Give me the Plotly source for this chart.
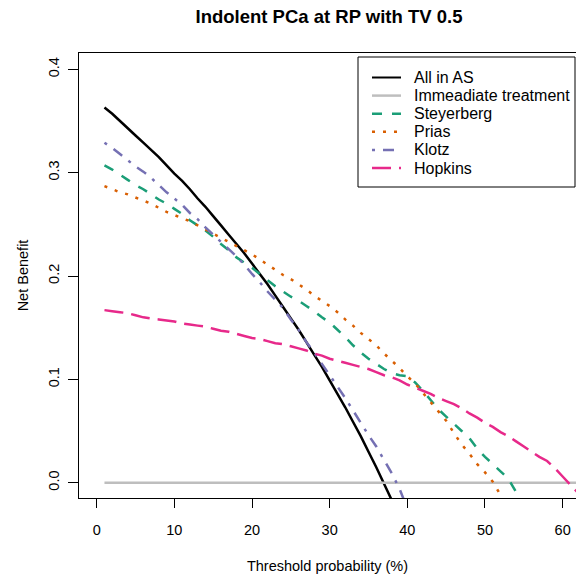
import plotly.graph_objects as go

# Threshold probability (%)
thr_all = list(range(1, 40))
nb_all = [0.363, 0.357, 0.350, 0.343, 0.336, 0.329, 0.322, 0.315, 0.307, 0.299,
          0.292, 0.284, 0.275, 0.267, 0.258, 0.249, 0.240, 0.231, 0.222, 0.212,
          0.202, 0.192, 0.181, 0.170, 0.159, 0.148, 0.136, 0.124, 0.112, 0.099,
          0.086, 0.073, 0.059, 0.045, 0.030, 0.015, -0.001, -0.017, -0.034]

thr_none = [1, 63]
nb_none = [0.0, 0.0]

thr_stey = list(range(1, 56))
nb_stey = [0.307, 0.303, 0.298, 0.293, 0.288, 0.284, 0.279, 0.274, 0.270, 0.265,
           0.260, 0.254, 0.249, 0.244, 0.238, 0.231, 0.225, 0.218, 0.213, 0.208,
           0.202, 0.196, 0.190, 0.185, 0.180, 0.176, 0.171, 0.166, 0.160, 0.155,
           0.148, 0.141, 0.133, 0.126, 0.120, 0.115, 0.110, 0.106, 0.104, 0.103,
           0.097, 0.089, 0.080, 0.071, 0.064, 0.057, 0.050, 0.043, 0.033, 0.025,
           0.018, 0.011, 0.004, -0.009, -0.020]

thr_prias = list(range(1, 54))
nb_prias = [0.287, 0.284, 0.281, 0.279, 0.276, 0.273, 0.270, 0.266, 0.262, 0.259,
            0.256, 0.253, 0.249, 0.245, 0.241, 0.237, 0.233, 0.229, 0.225, 0.221,
            0.216, 0.211, 0.206, 0.201, 0.197, 0.192, 0.187, 0.181, 0.176, 0.171,
            0.165, 0.158, 0.152, 0.145, 0.139, 0.133, 0.125, 0.118, 0.111, 0.103,
            0.096, 0.087, 0.078, 0.069, 0.060, 0.048, 0.037, 0.028, 0.018, 0.010,
            0.001, -0.012, -0.025]

thr_klotz = list(range(1, 41))
nb_klotz = [0.329, 0.324, 0.318, 0.312, 0.306, 0.301, 0.295, 0.288, 0.281, 0.275,
            0.269, 0.261, 0.255, 0.247, 0.240, 0.233, 0.226, 0.219, 0.211, 0.202,
            0.194, 0.185, 0.177, 0.169, 0.158, 0.148, 0.136, 0.126, 0.115, 0.104,
            0.093, 0.082, 0.070, 0.058, 0.046, 0.035, 0.022, 0.009, -0.006, -0.025]

thr_hop = list(range(1, 64))
nb_hop = [0.167, 0.166, 0.165, 0.164, 0.162, 0.160, 0.159, 0.158, 0.157, 0.156,
          0.154, 0.153, 0.152, 0.151, 0.149, 0.147, 0.146, 0.144, 0.142, 0.140,
          0.139, 0.137, 0.135, 0.134, 0.132, 0.130, 0.128, 0.125, 0.123, 0.120,
          0.118, 0.116, 0.114, 0.112, 0.110, 0.107, 0.104, 0.102, 0.099, 0.095,
          0.092, 0.089, 0.086, 0.082, 0.079, 0.076, 0.072, 0.067, 0.063, 0.058,
          0.054, 0.049, 0.045, 0.040, 0.035, 0.030, 0.025, 0.021, 0.014, 0.006,
          -0.002, -0.010, -0.017]

x_ticks = [0, 10, 20, 30, 40, 50, 60]
y_ticks = [0.0, 0.1, 0.2, 0.3, 0.4]
y_tick_labels = ["0.0", "0.1", "0.2", "0.3", "0.4"]

FONT = "Liberation Sans, Arial, sans-serif"
LW = 2.5

series = [
    ("All in AS", thr_all, nb_all, "#000000", "solid"),
    ("Immeadiate treatment", thr_none, nb_none, "#BEBEBE", "solid"),
    ("Steyerberg", thr_stey, nb_stey, "#1B9E77", "10px,10px"),
    ("Prias", thr_prias, nb_prias, "#D95F02", "3px,8px"),
    ("Klotz", thr_klotz, nb_klotz, "#7570B3", "3px,8px,11px,8px"),
    ("Hopkins", thr_hop, nb_hop, "#E7298A", "19px,8px"),
]

W, H = 576, 576
ML, MR, MT, MB = 79, 0, 53, 78
PW, PH = W - ML - MR, H - MT - MB


def px_x(px):
    return (px - ML) / PW


def px_y(py):
    return (H - MB - py) / PH


fig = go.Figure()
for name, xs, ys, col, dash in series:
    fig.add_trace(go.Scatter(x=xs, y=ys, mode="lines", name=name, showlegend=False,
                             line=dict(color=col, width=LW, dash=dash, simplify=False)))

# Legend box (drawn like R's legend(): box, line samples, labels)
shapes = [dict(type="rect", xref="paper", yref="paper",
               x0=px_x(358), x1=px_x(575), y0=px_y(187), y1=px_y(57),
               line=dict(color="black", width=1), fillcolor="white", layer="above")]
annotations = []
row0, row_step = 77.5, 18.1
for i, (name, xs, ys, col, dash) in enumerate(series):
    yc = row0 + i * row_step
    shapes.append(dict(type="line", xref="paper", yref="paper",
                       x0=px_x(372), x1=px_x(401), y0=px_y(yc), y1=px_y(yc),
                       line=dict(color=col, width=LW if i != 0 else 2, dash=dash), layer="above"))
    annotations.append(dict(text=name, xref="paper", yref="paper", x=px_x(412), y=px_y(yc),
                            xanchor="left", yanchor="middle", showarrow=False,
                            font=dict(size=16, color="black", family=FONT)))

fig.update_layout(
    template="none",
    width=W, height=H,
    margin=dict(l=ML, r=MR, t=MT, b=MB, autoexpand=False),
    paper_bgcolor="white", plot_bgcolor="white",
    font=dict(family=FONT, size=14.5, color="black"),
    title=dict(text="<b>Indolent PCa at RP with TV 0.5</b>", x=329 / W, xref="container",
               xanchor="center", y=1 - 17 / H, yref="container", yanchor="middle",
               font=dict(size=18.5)),
    showlegend=False,
    shapes=shapes,
    annotations=annotations,
)
fig.update_xaxes(range=[-2.28, 61.72], tickvals=x_ticks, ticks="outside", ticklen=9,
                 tickcolor="black", ticklabelstandoff=10,
                 showgrid=False, zeroline=False, showline=True, linecolor="black",
                 linewidth=1, mirror=True, automargin=False,
                 title=dict(text="Threshold probability (%)", standoff=23, font=dict(size=14.5)))
fig.update_yaxes(range=[-0.0148, 0.4158], tickvals=y_ticks, ticktext=y_tick_labels,
                 tickangle=-90, ticks="outside", ticklen=10, tickcolor="black",
                 ticklabelstandoff=3,
                 showgrid=False, zeroline=False, showline=True, linecolor="black",
                 linewidth=1, mirror=False, automargin=False,
                 title=dict(text="Net Benefit", standoff=14, font=dict(size=14.5)))

fig.write_html("out.html", config={"displayModeBar": False},
               post_script="document.body.style.margin='0px';")
